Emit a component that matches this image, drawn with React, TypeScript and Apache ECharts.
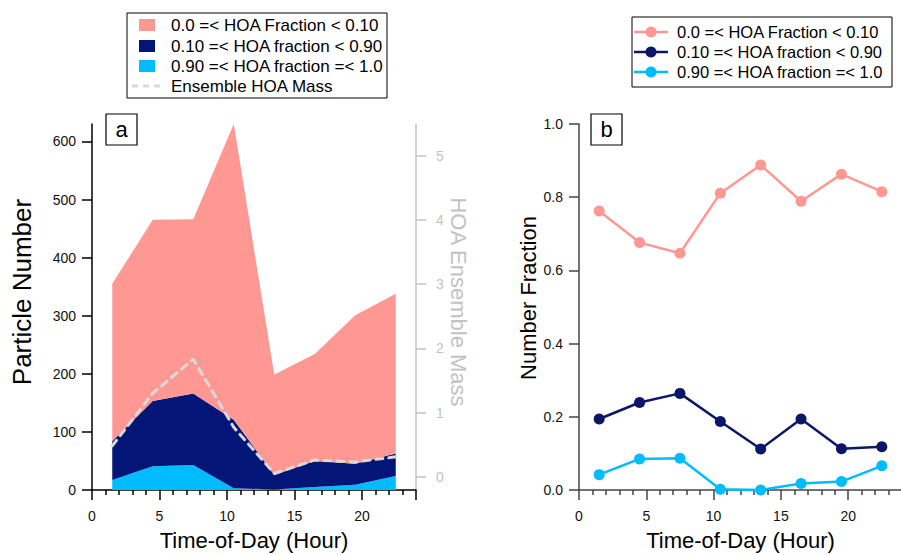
import React, { useEffect, useRef } from "react";
import * as echarts from "echarts";

const FONT = "'Liberation Sans', Arial, sans-serif";

// Time-of-day bin centres (hours)
const hours = [1.5, 4.5, 7.5, 10.5, 13.5, 16.5, 19.5, 22.5];

// Panel a: particle counts per HOA-fraction class (stacked)
const countHigh = [17, 41, 43, 3, 1, 5, 9, 24]; // 0.90 =< f =< 1.0
const countMid = [67, 112, 123, 118, 25, 45, 36, 39]; // 0.10 =< f < 0.90
const countLow = [271, 312, 300, 509, 173, 184, 256, 275]; // 0.0 =< f < 0.10
const ensembleMass = [0.48, 1.3, 1.83, 0.77, 0.05, 0.26, 0.23, 0.31];

// Panel b: number fractions
const fracLow = [0.762, 0.676, 0.647, 0.811, 0.888, 0.789, 0.863, 0.815];
const fracMid = [0.194, 0.239, 0.264, 0.187, 0.112, 0.194, 0.113, 0.118];
const fracHigh = [0.042, 0.085, 0.087, 0.002, 0.0, 0.018, 0.023, 0.066];

// Tick labels
const xTicks = [0, 5, 10, 15, 20];
const countTicks = [0, 100, 200, 300, 400, 500, 600];
const massTicks = [0, 1, 2, 3, 4, 5];

const legendNames = [
  "0.0 =< HOA Fraction < 0.10",
  "0.10 =< HOA fraction < 0.90",
  "0.90 =< HOA fraction =< 1.0",
  "Ensemble HOA Mass",
];

const PINK = "#ff9893";
const NAVY = "#031577";
const CYAN = "#00bcfd";
const NAVY_LINE = "#0c1668";
const DASH = "#d9d9d9";
const GRAY_AXIS = "#c2c2c2";

export default function App() {
  const ref = useRef<HTMLDivElement>(null);

  useEffect(() => {
    if (!ref.current) return;
    const chart = echarts.init(ref.current, undefined, { renderer: "svg" });

    const pair = (ys: number[]) => hours.map((h, i) => [h, ys[i]]);
    // value first so that the library stacks on the y dimension
    const pairYX = (ys: number[]) => hours.map((h, i) => [ys[i], h]);

    const mainX = (gridIndex: number, axisColor: string) => ({
      type: "value",
      gridIndex,
      min: xTicks[0],
      max: 24,
      interval: xTicks[1] - xTicks[0],
      axisLine: { show: true, onZero: false, lineStyle: { color: axisColor, width: 1.5 } },
      axisTick: {
        show: true,
        length: 10,
        lineStyle: { color: axisColor, width: 1.5 },
      },
      minorTick: {
        show: true,
        splitNumber: 5,
        length: 5,
        lineStyle: { color: axisColor, width: 1.5 },
      },
      axisLabel: {
        showMaxLabel: false,
        color: "#111",
        fontSize: 14,
        fontFamily: FONT,
        margin: 19,
      },
      splitLine: { show: false },
      minorSplitLine: { show: false },
      name: "Time-of-Day (Hour)",
      nameLocation: "middle",
      nameGap: 39,
      nameTextStyle: { fontSize: 22, fontFamily: FONT, color: "#000" },
    });

    const legendA: any[] = [
      {
        type: "rect",
        shape: { x: 127, y: 13, width: 260, height: 85 },
        style: { fill: "#fff", stroke: "#000", lineWidth: 1 },
      },
      ...[PINK, NAVY, CYAN].map((c, i) => ({
        type: "rect",
        shape: { x: 139, y: [25, 46, 66][i] - 6, width: 16, height: 12 },
        style: { fill: c },
      })),
      {
        type: "line",
        shape: { x1: 132, y1: 86, x2: 163, y2: 86 },
        style: { stroke: DASH, lineWidth: 3, lineDash: [6, 5] },
      },
      ...legendNames.map((t, i) => ({
        type: "text",
        x: 171,
        y: [25, 46, 66, 86][i],
        style: {
          text: t,
          fontSize: 17,
          fontFamily: FONT,
          fill: "#000",
          verticalAlign: "middle",
          align: "left",
        },
      })),
    ];

    const legendB: any[] = [
      {
        type: "rect",
        shape: { x: 632, y: 17, width: 260, height: 70 },
        style: { fill: "#fff", stroke: "#000", lineWidth: 1 },
      },
      ...[PINK, NAVY_LINE, CYAN].flatMap((c, i) => {
        const y = [32, 52, 72][i];
        return [
          {
            type: "line",
            shape: { x1: 634, y1: y, x2: 668, y2: y },
            style: { stroke: c, lineWidth: 2.5 },
          },
          {
            type: "circle",
            shape: { cx: 651, cy: y, r: 5.5 },
            style: { fill: c },
          },
          {
            type: "text",
            x: 677,
            y,
            style: {
              text: legendNames[i],
              fontSize: 16.5,
              fontFamily: FONT,
              fill: "#000",
              verticalAlign: "middle",
              align: "left",
            },
          },
        ];
      }),
    ];

    const panelLabel = (x: number, t: string) => [
      {
        type: "rect",
        shape: { x, y: 114, width: 31, height: 31 },
        style: { fill: "#fff", stroke: "#000", lineWidth: 1.2 },
        z: 10,
      },
      {
        type: "text",
        x: x + 15.5,
        y: 129,
        z: 11,
        style: {
          text: t,
          fontSize: 22,
          fontFamily: FONT,
          fill: "#000",
          align: "center",
          verticalAlign: "middle",
        },
      },
    ];

    const areaSeries = (name: string, color: string, ys: number[]) => ({
      name,
      type: "line",
      xAxisIndex: 0,
      yAxisIndex: 0,
      stack: "counts",
      symbol: "none",
      encode: { x: 1, y: 0 },
      lineStyle: { width: 0 },
      areaStyle: { color, opacity: 1 },
      itemStyle: { color },
      data: pairYX(ys),
    });

    const fracSeries = (name: string, color: string, ys: number[]) => ({
      name,
      type: "line",
      xAxisIndex: 1,
      yAxisIndex: 2,
      symbol: "circle",
      symbolSize: 11,
      clip: false,
      lineStyle: { color, width: 2.5 },
      itemStyle: { color },
      data: pair(ys),
    });

    const option: any = {
      animation: false,
      backgroundColor: "#fff",
      grid: [
        { left: 92, top: 124, width: 324, height: 366, outerBoundsMode: "none", containLabel: false },
        { left: 579, top: 124, width: 323, height: 366, outerBoundsMode: "none", containLabel: false },
      ],
      xAxis: [mainX(0, "#000"), mainX(1, "#444")],
      yAxis: [
        {
          type: "value",
          gridIndex: 0,
          min: 0,
          max: 630,
          axisLine: { show: true, onZero: false, lineStyle: { color: "#000", width: 1.5 } },
          axisTick: { show: true, length: 10, customValues: countTicks, lineStyle: { color: "#000", width: 1.5 } },
          axisLabel: { customValues: countTicks, color: "#111", fontSize: 14, fontFamily: FONT, margin: 16 },
          splitLine: { show: false },
          name: "Particle Number",
          nameLocation: "middle",
          nameGap: 57,
          nameTextStyle: { fontSize: 26, fontFamily: FONT, color: "#000", padding: [0, 0, 0, 30] },
        },
        {
          type: "value",
          gridIndex: 0,
          position: "right",
          min: -0.207,
          max: 5.494,
          axisLine: { show: true, onZero: false, lineStyle: { color: GRAY_AXIS, width: 1.5 } },
          axisTick: { show: true, length: 10, customValues: massTicks, lineStyle: { color: GRAY_AXIS, width: 1.5 } },
          axisLabel: { customValues: massTicks, color: GRAY_AXIS, fontSize: 14, fontFamily: FONT, margin: 20 },
          splitLine: { show: false },
          name: "HOA Ensemble Mass",
          nameLocation: "middle",
          nameRotate: -90,
          nameGap: 31,
          nameTextStyle: { fontSize: 22, fontFamily: FONT, color: GRAY_AXIS, padding: [0, 10, 0, 0] },
        },
        {
          type: "value",
          gridIndex: 1,
          min: 0,
          max: 1,
          interval: 0.2,
          axisLine: { show: true, onZero: false, lineStyle: { color: "#444", width: 1.5 } },
          axisTick: { show: true, length: 10, lineStyle: { color: "#444", width: 1.5 } },
          axisLabel: {
            color: "#111",
            fontSize: 14,
            fontFamily: FONT,
            margin: 16,
            formatter: (v: number) => v.toFixed(1),
          },
          splitLine: { show: false },
          name: "Number Fraction",
          nameLocation: "middle",
          nameGap: 40,
          nameTextStyle: { fontSize: 22, fontFamily: FONT, color: "#000", padding: [0, 0, 0, 18] },
        },
      ],
      series: [
        areaSeries(legendNames[2], CYAN, countHigh),
        areaSeries(legendNames[1], NAVY, countMid),
        areaSeries(legendNames[0], PINK, countLow),
        {
          name: legendNames[3],
          type: "line",
          xAxisIndex: 0,
          yAxisIndex: 1,
          symbol: "none",
          z: 5,
          lineStyle: { color: DASH, width: 3, type: [7, 6], cap: "round" },
          data: pair(ensembleMass),
        },
        fracSeries(legendNames[0], PINK, fracLow),
        fracSeries(legendNames[1], NAVY_LINE, fracMid),
        fracSeries(legendNames[2], CYAN, fracHigh),
      ],
      graphic: [...legendA, ...legendB, ...panelLabel(106, "a"), ...panelLabel(591, "b")],
    };

    chart.setOption(option);
    return () => chart.dispose();
  }, []);

  return (
    <div
      ref={ref}
      style={{ position: "absolute", left: 0, top: 0, width: 901, height: 555 }}
    />
  );
}
